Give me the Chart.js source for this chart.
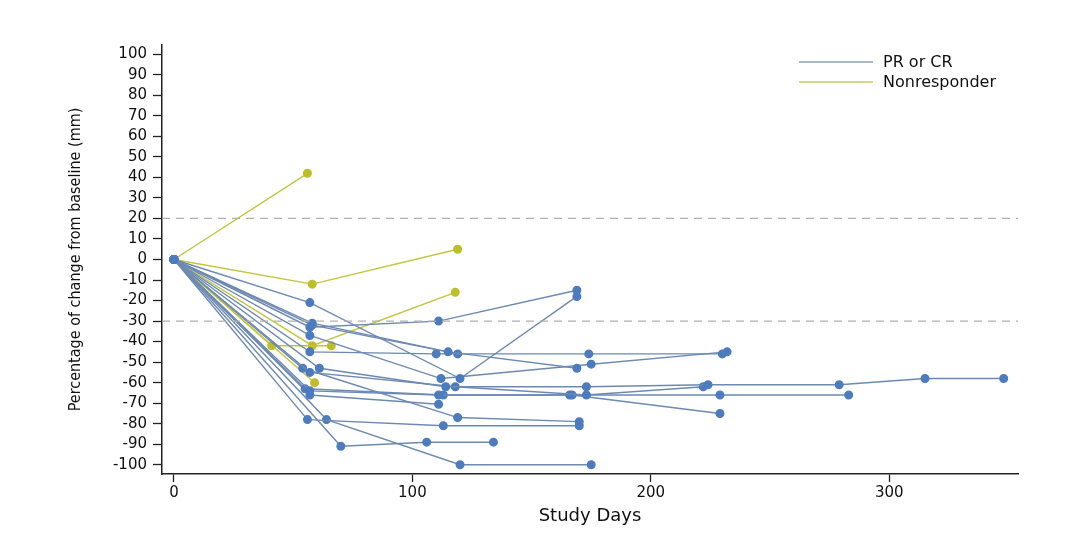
<!DOCTYPE html>
<html lang="en">
<head>
<meta charset="UTF-8">
<title>Percentage of change from baseline</title>
<script src="https://cdn.jsdelivr.net/npm/chart.js"></script>
<style>
  html, body { margin: 0; padding: 0; background: #fff; }
  #wrap { width: 1080px; height: 556px; }
</style>
</head>
<body>
<div id="wrap"><canvas id="grafico" width="1080" height="556"></canvas></div>
<script>
// tick labels
const xTicks = [0, 100, 200, 300];
const yTicks = [100, 90, 80, 70, 60, 50, 40, 30, 20, 10, 0, -10, -20, -30, -40, -50, -60, -70, -80, -90, -100];
const thresholds = [20, -30];

// PR or CR patients: [study day, % change]
const pr01 = [[0, 0], [57, -21], [120, -58], [169, -18]];
const pr02 = [[0, 0], [57, -33], [111, -30], [169, -15]];
const pr03 = [[0, 0], [58, -31], [115, -45], [169, -53]];
const pr04 = [[0, 0], [57, -45], [110, -46], [174, -46], [230, -46]];
const pr05 = [[0, 0], [57, -37], [112, -58], [175, -51], [232, -45]];
const pr06 = [[0, 0], [58, -32], [119, -46]];
const pr07 = [[0, 0], [61, -53], [114, -62], [173, -62], [224, -61], [279, -61], [315, -58], [348, -58]];
const pr08 = [[0, 0], [57, -55], [118, -62], [173, -66], [222, -62]];
const pr09 = [[0, 0], [57, -64], [111, -66], [166, -66], [229, -66], [283, -66]];
const pr10 = [[0, 0], [55, -63], [113, -66], [167, -66], [229, -75]];
const pr11 = [[0, 0], [57, -66], [111, -70.5]];
const pr12 = [[0, 0], [56, -78], [113, -81], [170, -81]];
const pr13 = [[0, 0], [64, -78], [120, -100], [175, -100]];
const pr14 = [[0, 0], [54, -53], [119, -77], [170, -79]];
const pr15 = [[0, 0], [70, -91], [106, -89], [134, -89]];

// Nonresponders
const nr01 = [[0, 0], [56, 42]];
const nr02 = [[0, 0], [58, -12], [119, 5]];
const nr03 = [[0, 0], [41, -42], [66, -42]];
const nr04 = [[0, 0], [58, -42], [118, -16]];
const nr05 = [[0, 0], [59, -60]];

const prPatients = [pr01, pr02, pr03, pr04, pr05, pr06, pr07, pr08, pr09, pr10, pr11, pr12, pr13, pr14, pr15];
const nrPatients = [nr01, nr02, nr03, nr04, nr05];

const azulLinha = 'rgb(108, 137, 178)';
const azulPonto = 'rgb(76, 124, 190)';
const amareloLinha = 'rgb(196, 196, 60)';
const amareloPonto = 'rgb(190, 190, 40)';

function paraPontos(lista) {
    return lista.map(p => ({ x: p[0], y: p[1] }));
}

let datasets = [];

// dashed reference lines
thresholds.forEach(v => {
    datasets.push({
        data: [{ x: -5, y: v }, { x: 354, y: v }],
        showLine: true,
        borderColor: 'rgb(175, 175, 175)',
        borderWidth: 1.2,
        borderDash: [8, 6],
        pointRadius: 0
    });
});

prPatients.forEach(p => {
    datasets.push({
        data: paraPontos(p),
        showLine: true,
        borderColor: azulLinha,
        borderWidth: 1.4,
        backgroundColor: azulPonto,
        pointBackgroundColor: azulPonto,
        pointBorderColor: azulPonto,
        pointRadius: 3.8
    });
});

nrPatients.forEach(p => {
    datasets.push({
        data: paraPontos(p),
        showLine: true,
        borderColor: amareloLinha,
        borderWidth: 1.4,
        backgroundColor: amareloPonto,
        pointBackgroundColor: amareloPonto,
        pointBorderColor: amareloPonto,
        pointRadius: 3.8
    });
});

// legend drawn by hand, top right like the original
const legendaManual = {
    id: 'legendaManual',
    afterDraw(chart) {
        const ctx = chart.ctx;
        const itens = [
            { texto: 'PR or CR', cor: 'rgb(140, 160, 185)', y: 62 },
            { texto: 'Nonresponder', cor: 'rgb(205, 205, 90)', y: 82 }
        ];
        ctx.save();
        ctx.font = '16px "DejaVu Sans", sans-serif';
        ctx.textBaseline = 'middle';
        ctx.fillStyle = '#111';
        itens.forEach(it => {
            ctx.strokeStyle = it.cor;
            ctx.lineWidth = 1.5;
            ctx.beginPath();
            ctx.moveTo(799, it.y);
            ctx.lineTo(873, it.y);
            ctx.stroke();
            ctx.fillText(it.texto, 883, it.y + 1);
        });
        ctx.restore();
    }
};

const fonteTicks = { family: '"DejaVu Sans", sans-serif', size: 15 };
const fonteTituloX = { family: '"DejaVu Sans", sans-serif', size: 18 };
const fonteTituloY = { family: '"DejaVu Sans Condensed", "Liberation Sans Narrow", sans-serif', size: 16 };

const config = {
    type: 'scatter',
    data: { datasets: datasets },
    options: {
        responsive: false,
        animation: false,
        layout: { padding: { left: 62, right: 62, top: 45, bottom: 25 } },
        plugins: {
            legend: { display: false },
            tooltip: { enabled: false }
        },
        scales: {
            x: {
                type: 'linear',
                min: -5,
                max: 354,
                afterBuildTicks: (scale) => { scale.ticks = xTicks.map(v => ({ value: v })); },
                afterFit: (scale) => { scale.height = 57; },
                grid: { drawOnChartArea: false, drawTicks: true, tickLength: 8, color: '#222', tickWidth: 1.3 },
                border: { display: true, color: '#222', width: 1.5 },
                ticks: { color: '#111', font: fonteTicks, padding: 2, maxRotation: 0 },
                title: { display: true, text: 'Study Days', color: '#111', font: fonteTituloX, padding: { top: 4, bottom: 4 } }
            },
            y: {
                type: 'linear',
                min: -104.5,
                max: 104.5,
                afterBuildTicks: (scale) => { scale.ticks = yTicks.map(v => ({ value: v })); },
                afterFit: (scale) => { scale.width = 100; },
                grid: { drawOnChartArea: false, drawTicks: true, tickLength: 9, color: '#222', tickWidth: 1.3 },
                border: { display: true, color: '#222', width: 1.5 },
                ticks: { color: '#111', font: fonteTicks, padding: 6 },
                title: { display: true, text: 'Percentage of change from baseline (mm)', color: '#111', font: fonteTituloY, padding: { top: 4, bottom: 4 } }
            }
        }
    },
    plugins: [legendaManual]
};

let myChart = new Chart(document.getElementById('grafico'), config);
</script>
</body>
</html>
